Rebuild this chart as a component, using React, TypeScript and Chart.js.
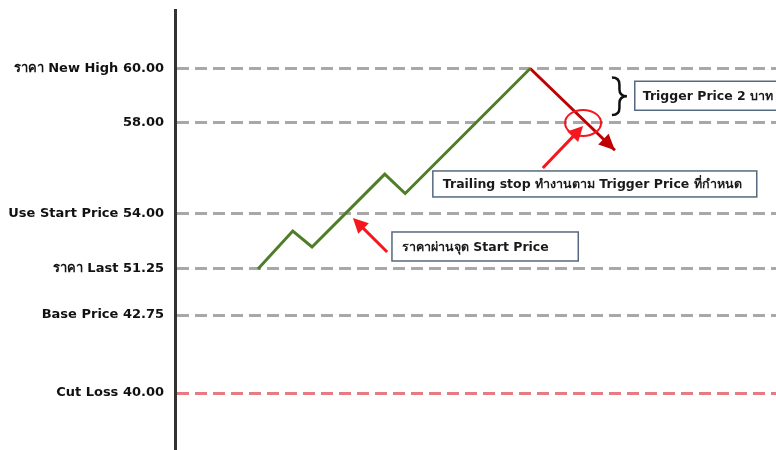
import React, { useEffect, useRef } from 'react';
import { Chart, registerables, LinearScale } from 'chart.js';

// ---- data ----
const levelPrices = [60, 58, 54, 51.25, 42.75, 40];
const levelLabels = [
  'ราคา New High 60.00',
  '58.00',
  'Use Start Price 54.00',
  'ราคา Last 51.25',
  'Base Price 42.75',
  'Cut Loss 40.00',
];
const cutLossPrice = 40;

const priceTime = [13.8, 19.6, 22.8, 34.9, 38.3, 59.1];
const priceValues = [51.25, 53.15, 52.35, 55.75, 54.9, 60];

const trailTime = [59.1, 73.2];
const trailValues = [60, 56.8];

const triggerText = 'Trigger Price 2 บาท';
const trailingText = 'Trailing stop ทำงานตาม Trigger Price ที่กำหนด';
const startText = 'ราคาผ่านจุด Start Price';

// ---- schematic (non-linear) price scale ----
class PiecewiseScale extends LinearScale {
  static id = 'piecewise';
  static defaults = {};
  _bp(): [number, number][] {
    return ((this.options as any).breakpoints || []) as [number, number][];
  }
  getPixelForValue(value: number) {
    const bp = this._bp();
    if (value === null || value === undefined || isNaN(value)) return NaN;
    let dec = 0;
    if (value <= bp[0][0]) {
      const [v0, d0] = bp[0], [v1, d1] = bp[1];
      dec = d0 + ((value - v0) / (v1 - v0)) * (d1 - d0);
    } else if (value >= bp[bp.length - 1][0]) {
      const [v0, d0] = bp[bp.length - 2], [v1, d1] = bp[bp.length - 1];
      dec = d0 + ((value - v0) / (v1 - v0)) * (d1 - d0);
    } else {
      for (let i = 0; i < bp.length - 1; i++) {
        const [v0, d0] = bp[i], [v1, d1] = bp[i + 1];
        if (value >= v0 && value <= v1) {
          dec = d0 + ((value - v0) / (v1 - v0)) * (d1 - d0);
          break;
        }
      }
    }
    return this.getPixelForDecimal(dec);
  }
  getValueForPixel(pixel: number) {
    const bp = this._bp();
    const dec = this.getDecimalForPixel(pixel);
    for (let i = 0; i < bp.length - 1; i++) {
      const [v0, d0] = bp[i], [v1, d1] = bp[i + 1];
      if (dec >= d0 && dec <= d1) return v0 + ((dec - d0) / (d1 - d0)) * (v1 - v0);
    }
    return bp[0][0];
  }
}

Chart.register(...registerables, PiecewiseScale as any);

const FONT = "'DejaVu Sans', 'Noto Sans', sans-serif";
const GRAY = '#a8a8a8';
const PINK = '#ea7a82';
const GREEN = '#4f7d2a';
const DARKRED = '#c00000';
const RED = '#f5161e';
const BOXBORDER = '#56687f';

function drawArrow(ctx: CanvasRenderingContext2D, x1: number, y1: number, x2: number, y2: number,
  color: string, width: number, headLen: number, headW: number, drawShaft = true) {
  const ang = Math.atan2(y2 - y1, x2 - x1);
  const bx = x2 - headLen * Math.cos(ang);
  const by = y2 - headLen * Math.sin(ang);
  ctx.save();
  if (drawShaft) {
    ctx.strokeStyle = color;
    ctx.lineWidth = width;
    ctx.lineCap = 'butt';
    ctx.beginPath();
    ctx.moveTo(x1, y1);
    ctx.lineTo(bx + 2 * Math.cos(ang), by + 2 * Math.sin(ang));
    ctx.stroke();
  }
  ctx.fillStyle = color;
  ctx.beginPath();
  ctx.moveTo(x2, y2);
  ctx.lineTo(bx + headW * Math.sin(ang), by - headW * Math.cos(ang));
  ctx.lineTo(bx - headW * Math.sin(ang), by + headW * Math.cos(ang));
  ctx.closePath();
  ctx.fill();
  ctx.restore();
}

function drawBox(ctx: CanvasRenderingContext2D, left: number, right: number, cy: number, h: number, text: string, pad: number) {
  ctx.save();
  ctx.fillStyle = '#ffffff';
  ctx.fillRect(left, cy - h / 2, right - left, h);
  ctx.strokeStyle = BOXBORDER;
  ctx.lineWidth = 1.5;
  ctx.strokeRect(left, cy - h / 2, right - left, h);
  ctx.fillStyle = '#1a1a1a';
  ctx.font = `bold 12.5px ${FONT}`;
  ctx.textBaseline = 'middle';
  ctx.textAlign = 'left';
  ctx.fillText(text, left + pad, cy + 1);
  ctx.restore();
}

const annotationPlugin = {
  id: 'annotations',
  afterDatasetsDraw(chart: any) {
    const { ctx } = chart;
    const xs = chart.scales.x;
    const ys = chart.scales.y;
    const X = (v: number) => xs.getPixelForValue(v);
    const Y = (v: number) => ys.getPixelForValue(v);

    // arrowhead at end of trailing (dark red) line
    const meta = chart.getDatasetMeta(1);
    const pts = meta.data;
    if (pts.length >= 2) {
      const a = pts[pts.length - 2], b = pts[pts.length - 1];
      drawArrow(ctx, a.x, a.y, b.x, b.y, DARKRED, 3, 16, 7.5, false);
    }

    // red ellipse where trailing line crosses the trigger level
    ctx.save();
    ctx.strokeStyle = RED;
    ctx.lineWidth = 2;
    ctx.beginPath();
    ctx.ellipse(X(67.9), Y(58), 18, 13, 0, 0, Math.PI * 2);
    ctx.stroke();
    ctx.restore();

    // brace "}" between the 60 and 58 levels
    const bx0 = X(72.7);
    const bw = 15;
    const yTop = Y(60) + 9;
    const yBot = Y(58) - 8;
    const ym = (yTop + yBot) / 2;
    const r = 7;
    ctx.save();
    ctx.strokeStyle = '#111';
    ctx.lineWidth = 2.5;
    ctx.beginPath();
    ctx.moveTo(bx0, yTop);
    ctx.quadraticCurveTo(bx0 + bw / 2, yTop, bx0 + bw / 2, yTop + r);
    ctx.lineTo(bx0 + bw / 2, ym - r);
    ctx.quadraticCurveTo(bx0 + bw / 2, ym, bx0 + bw, ym);
    ctx.quadraticCurveTo(bx0 + bw / 2, ym, bx0 + bw / 2, ym + r);
    ctx.lineTo(bx0 + bw / 2, yBot - r);
    ctx.quadraticCurveTo(bx0 + bw / 2, yBot, bx0, yBot);
    ctx.stroke();
    ctx.restore();

    // pointer arrows
    drawArrow(ctx, X(35.3), Y(52.1), X(29.6), Y(53.8), RED, 3, 15, 7.5);
    drawArrow(ctx, X(61.2), Y(56.02), X(67.9), Y(57.87), RED, 3, 15, 7.5);

    // text boxes
    drawBox(ctx, X(76.5), X(101.5), Y(59), 29, triggerText, 8);
    drawBox(ctx, X(42.9), X(96.8), Y(55.32), 26, trailingText, 10);
    drawBox(ctx, X(36.1), X(67.1), Y(52.375), 29, startText, 10);
  },
};

export default function App() {
  const ref = useRef<HTMLCanvasElement | null>(null);
  useEffect(() => {
    document.body.style.margin = '0';
    const canvas = ref.current;
    if (!canvas) return;
    const chart = new Chart(canvas, {
      type: 'line',
      data: {
        datasets: [
          {
            data: priceTime.map((t, i) => ({ x: t, y: priceValues[i] })),
            borderColor: GREEN,
            borderWidth: 3,
            pointRadius: 0,
            tension: 0,
            borderJoinStyle: 'miter',
            fill: false,
          },
          {
            data: trailTime.map((t, i) => ({ x: t, y: trailValues[i] })),
            borderColor: DARKRED,
            borderWidth: 3,
            pointRadius: 0,
            tension: 0,
            fill: false,
          },
        ],
      },
      options: {
        responsive: false,
        animation: false,
        devicePixelRatio: 1,
        layout: { padding: { top: 10, left: 0, right: 0, bottom: 0 } },
        plugins: { legend: { display: false }, tooltip: { enabled: false } },
        scales: {
          x: { type: 'linear', display: false, min: 0, max: 100 },
          y: {
            type: 'piecewise' as any,
            min: 36,
            max: 63,
            breakpoints: [
              [36, 0],
              [40, 0.1295],
              [42.75, 0.3068],
              [51.25, 0.4114],
              [54, 0.5364],
              [58, 0.7432],
              [60, 0.867],
              [63, 1],
            ],
            afterBuildTicks: (s: any) => {
              s.ticks = levelPrices.map((v) => ({ value: v }));
            },
            afterFit: (s: any) => {
              s.width = 175;
              s.paddingTop = 0;
              s.paddingBottom = 0;
            },
            grid: {
              drawTicks: false,
              lineWidth: 3,
              color: (c: any) => (c.tick && c.tick.value === cutLossPrice ? PINK : GRAY),
            },
            border: { display: true, color: '#333', width: 3, dash: [12, 6] },
            ticks: {
              autoSkip: false,
              padding: 11,
              color: '#111',
              font: { family: FONT, size: 13, weight: 'bold' },
              callback: (v: any) => {
                const i = levelPrices.indexOf(Number(v));
                return i >= 0 ? levelLabels[i] : '';
              },
            },
          } as any,
        },
      },
      plugins: [annotationPlugin],
    } as any);
    return () => chart.destroy();
  }, []);
  return (
    <div style={{ width: 776, height: 450 }}>
      <canvas ref={ref} width={776} height={450} style={{ display: 'block' }} />
    </div>
  );
}
